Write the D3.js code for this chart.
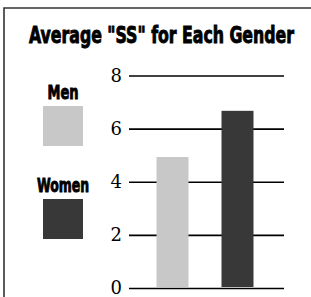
<!DOCTYPE html>
<html>
<head>
  <script src="https://d3js.org/d3.v7.min.js"></script>
  <style>
    body { margin: 0; background: #fff; }
    .heavy { font-family: "Liberation Sans Narrow", "DejaVu Sans Condensed", sans-serif; font-weight: bold; stroke: #000; stroke-width: 0.9; }
    .grid .domain { stroke: none; }
    .grid line { stroke: #000; stroke-width: 1.6; }
    .grid text { font-family: "DejaVu Serif", "Liberation Serif", "Times New Roman", serif; }
  </style>
</head>
<body>
  <svg id="chart" width="311" height="297"></svg>
  <script>
    // data
    const genders = ["Men", "Women"];
    const ssValues = [4.93, 6.67];
    const barColors = ["#c8c8c8", "#383838"];
    const yTicks = [0, 2, 4, 6, 8];

    const svg = d3.select("#chart");

    // frame (top and left edges only show in the crop)
    svg.append("path")
      .attr("d", "M4,300 L4,8 L315,8")
      .attr("fill", "none")
      .attr("stroke", "#333")
      .attr("stroke-width", 1.6);

    svg.append("text")
      .attr("class", "heavy")
      .attr("x", 29).attr("y", 43)
      .attr("font-size", 23)
      .attr("textLength", 265)
      .attr("lengthAdjust", "spacingAndGlyphs")
      .text('Average "SS" for Each Gender');

    const yScale = d3.scaleLinear().domain([0, 8]).range([288, 75.5]);
    const xScale = d3.scaleBand().domain(genders).range([140, 270])
      .paddingInner(0.508).paddingOuter(0.254);
    const colorScale = d3.scaleOrdinal().domain(genders).range(barColors);

    // gridlines + labels
    const leftAxis = d3.axisLeft(yScale)
      .tickValues(yTicks)
      .tickSize(-155)
      .tickPadding(7)
      .tickFormat(d3.format("d"));
    const grid = svg.append("g")
      .attr("class", "grid")
      .attr("transform", "translate(129,0)")
      .call(leftAxis);
    grid.attr("font-family", null).attr("font-size", 18);
    grid.selectAll("text").attr("fill", "#000");

    // bars
    svg.append("g").selectAll("rect")
      .data(genders)
      .join("rect")
      .attr("x", d => xScale(d))
      .attr("width", xScale.bandwidth())
      .attr("y", (d, i) => yScale(ssValues[i]))
      .attr("height", (d, i) => yScale(0) - yScale(ssValues[i]) - 1)
      .attr("fill", d => colorScale(d));

    // legend
    const legend = svg.append("g").selectAll("g")
      .data(genders)
      .join("g")
      .attr("transform", (d, i) => `translate(63,${99 + i * 93})`);
    legend.append("text")
      .attr("class", "heavy")
      .attr("text-anchor", "middle")
      .attr("font-size", 19)
      .attr("textLength", d => d === "Men" ? 31 : 52)
      .attr("lengthAdjust", "spacingAndGlyphs")
      .text(d => d);
    legend.append("rect")
      .attr("x", -20).attr("y", 7)
      .attr("width", 40).attr("height", 40)
      .attr("fill", d => colorScale(d));
  </script>
</body>
</html>
